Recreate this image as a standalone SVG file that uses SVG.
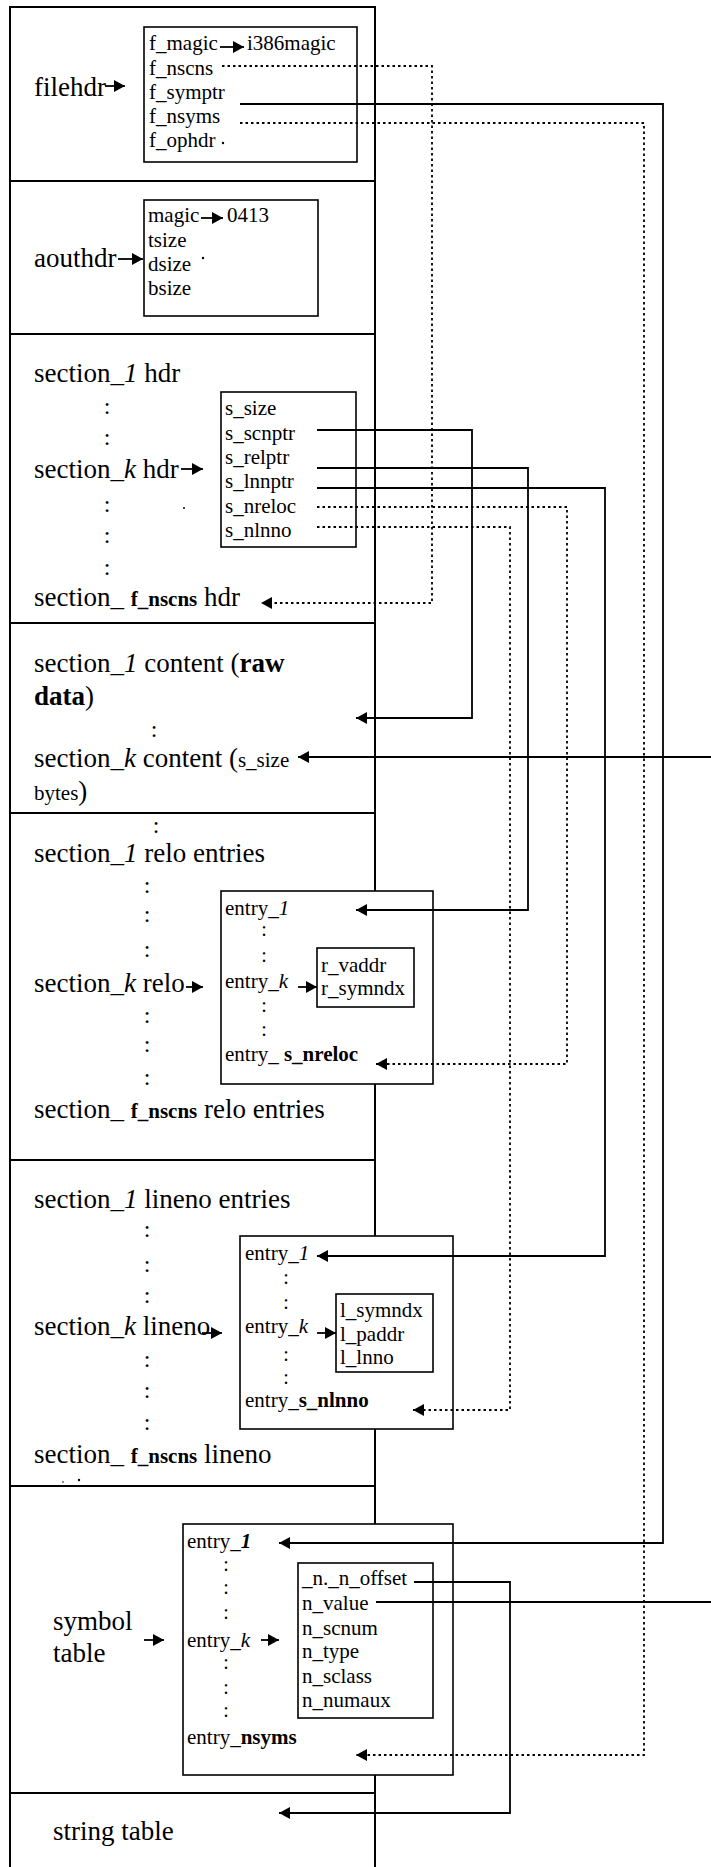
<svg xmlns="http://www.w3.org/2000/svg" width="711" height="1867" viewBox="0 0 711 1867">
<style>
.t{font-family:"Liberation Serif","Times New Roman",serif;fill:#000}
.big{font-size:27px}
.sm{font-size:21px}
.cb{font-size:24px}
.cs{font-size:20px}
.b{font-weight:bold}
.i{font-style:italic}
.frame{fill:none;stroke:#000;stroke-width:2}
.box{fill:none;stroke:#000;stroke-width:1.6}
.conn{fill:none;stroke:#000;stroke-width:1.8}
.dot{stroke-dasharray:2.5 3}
.arr{marker-end:url(#ah)}
</style>
<defs>
<marker id="ah" markerUnits="userSpaceOnUse" markerWidth="11" markerHeight="12" refX="11" refY="6" orient="auto">
<path d="M0,0 L11,6 L0,12 z" fill="#000"/>
</marker>
</defs>
<rect width="711" height="1867" fill="#fff"/>

<g id="frame">
<path class="frame" d="M10,1867 V7 H375 V891 M375,1084 V1236 M375,1429 V1524 M375,1775 V1867"/>
<path class="frame" d="M10,181 H375 M10,334 H375 M10,623 H375 M10,813 H375 M10,1160 H375 M10,1486 H375 M10,1793 H375"/>
</g>

<g id="filehdr">
<text class="t big" x="34" y="96">filehdr</text>
<rect class="box" x="144" y="27" width="213" height="135"/>
<text class="t sm" x="149" y="50">f_magic</text>
<text class="t sm" x="247" y="50">i386magic</text>
<text class="t sm" x="149" y="75">f_nscns</text>
<text class="t sm" x="149" y="99">f_symptr</text>
<text class="t sm" x="149" y="123">f_nsyms</text>
<text class="t sm" x="149" y="147">f_ophdr</text>
<circle cx="223" cy="143" r="1.2"/>
</g>

<g id="aouthdr">
<text class="t big" x="34" y="267">aouthdr</text>
<rect class="box" x="144" y="200" width="174" height="116"/>
<text class="t sm" x="148" y="222">magic</text>
<text class="t sm" x="227" y="222">0413</text>
<text class="t sm" x="148" y="247">tsize</text>
<text class="t sm" x="148" y="271">dsize</text>
<text class="t sm" x="148" y="295">bsize</text>
<circle cx="203" cy="258" r="1.2"/>
</g>

<g id="section-headers">
<text class="t big" x="34" y="382">section_<tspan class="i">1</tspan> hdr</text>
<text class="t big" x="34" y="478">section_<tspan class="i">k</tspan> hdr</text>
<text class="t big" x="34" y="606">section_ <tspan class="b" font-size="21">f_nscns</tspan> hdr</text>
<g class="t cb" text-anchor="middle">
<text x="107" y="414">:</text><text x="107" y="445">:</text><text x="107" y="512">:</text><text x="107" y="543">:</text><text x="107" y="575">:</text>
</g>
<circle cx="184" cy="508" r="1"/>
</g>

<g id="scnhdr-box">
<rect class="box" x="221" y="392" width="135" height="155"/>
<text class="t sm" x="225" y="415">s_size</text>
<text class="t sm" x="225" y="440">s_scnptr</text>
<text class="t sm" x="225" y="464">s_relptr</text>
<text class="t sm" x="225" y="488">s_lnnptr</text>
<text class="t sm" x="225" y="513">s_nreloc</text>
<text class="t sm" x="225" y="537">s_nlnno</text>
</g>

<g id="section-content">
<text class="t big" x="34" y="672">section_<tspan class="i">1</tspan> content (<tspan class="b">raw</tspan></text>
<text class="t big" x="34" y="705"><tspan class="b">data</tspan>)</text>
<text class="t cb" text-anchor="middle" x="154" y="737">:</text>
<text class="t big" x="34" y="767">section_<tspan class="i">k</tspan> content (<tspan font-size="21">s_size</tspan></text>
<text class="t big" x="34" y="800"><tspan font-size="21">bytes</tspan>)</text>
</g>

<g id="relo-entries">
<text class="t cb" text-anchor="middle" x="156" y="833">:</text>
<text class="t big" x="34" y="862">section_<tspan class="i">1</tspan> relo entries</text>
<text class="t big" x="34" y="992">section_<tspan class="i">k</tspan> relo</text>
<text class="t big" x="34" y="1118">section_ <tspan class="b" font-size="21">f_nscns</tspan> relo entries</text>
<g class="t cb" text-anchor="middle">
<text x="147" y="893">:</text><text x="147" y="922">:</text><text x="147" y="957">:</text><text x="147" y="1023">:</text><text x="147" y="1052">:</text><text x="147" y="1085">:</text>
</g>
</g>

<g id="relo-box">
<rect class="box" x="221" y="891" width="212" height="193"/>
<text class="t sm" x="225" y="915">entry_<tspan class="i">1</tspan></text>
<text class="t sm" x="225" y="988">entry_<tspan class="i">k</tspan></text>
<text class="t sm" x="225" y="1061">entry_ <tspan class="b">s_nreloc</tspan></text>
<g class="t cs" text-anchor="middle">
<text x="264" y="936">:</text><text x="264" y="962">:</text><text x="264" y="1012">:</text><text x="264" y="1036">:</text>
</g>
</g>

<g id="reloc-fields">
<rect class="box" x="317" y="948" width="97" height="59"/>
<text class="t sm" x="321" y="972">r_vaddr</text>
<text class="t sm" x="321" y="995">r_symndx</text>
</g>

<g id="lineno-entries">
<text class="t big" x="34" y="1208">section_<tspan class="i">1</tspan> lineno entries</text>
<text class="t big" x="34" y="1335">section_<tspan class="i">k</tspan> lineno</text>
<text class="t big" x="34" y="1463">section_ <tspan class="b" font-size="21">f_nscns</tspan> lineno</text>
<g class="t cb" text-anchor="middle">
<text x="147" y="1237">:</text><text x="147" y="1272">:</text><text x="147" y="1303">:</text><text x="147" y="1367">:</text><text x="147" y="1398">:</text><text x="147" y="1430">:</text>
</g>
<circle cx="63" cy="1482" r="0.8"/>
<circle cx="79" cy="1480" r="1.2"/>
</g>

<g id="lineno-box">
<rect class="box" x="240" y="1236" width="213" height="193"/>
<text class="t sm" x="245" y="1260">entry_<tspan class="i">1</tspan></text>
<text class="t sm" x="245" y="1333">entry_<tspan class="i">k</tspan></text>
<text class="t sm" x="245" y="1407">entry_<tspan class="b">s_nlnno</tspan></text>
<g class="t cs" text-anchor="middle">
<text x="286" y="1284">:</text><text x="286" y="1309">:</text><text x="286" y="1361">:</text><text x="286" y="1384">:</text>
</g>
</g>

<g id="lineno-fields">
<rect class="box" x="336" y="1294" width="97" height="78"/>
<text class="t sm" x="340" y="1317">l_symndx</text>
<text class="t sm" x="340" y="1341">l_paddr</text>
<text class="t sm" x="340" y="1364">l_lnno</text>
</g>

<g id="symbol-table">
<text class="t big" x="53" y="1630">symbol</text>
<text class="t big" x="53" y="1662">table</text>
<rect class="box" x="183" y="1524" width="270" height="251"/>
<text class="t sm" x="187" y="1548">entry_<tspan class="b i">1</tspan></text>
<text class="t sm" x="187" y="1647">entry_<tspan class="i">k</tspan></text>
<text class="t sm" x="187" y="1744">entry_<tspan class="b">nsyms</tspan></text>
<g class="t cs" text-anchor="middle">
<text x="226" y="1571">:</text><text x="226" y="1594">:</text><text x="226" y="1619">:</text><text x="226" y="1669">:</text><text x="226" y="1694">:</text><text x="226" y="1717">:</text>
</g>
</g>

<g id="symbol-fields">
<rect class="box" x="298" y="1563" width="135" height="155"/>
<text class="t sm" x="302" y="1585">_n._n_offset</text>
<text class="t sm" x="302" y="1610">n_value</text>
<text class="t sm" x="302" y="1635">n_scnum</text>
<text class="t sm" x="302" y="1658">n_type</text>
<text class="t sm" x="302" y="1683">n_sclass</text>
<text class="t sm" x="302" y="1707">n_numaux</text>
</g>

<g id="string-table">
<text class="t big" x="53" y="1840">string table</text>
</g>

<g id="connectors">
<path class="conn arr" d="M105,86 H125"/>
<path class="conn arr" d="M220,47 H244"/>
<path class="conn arr" d="M118,259 H143"/>
<path class="conn arr" d="M201,218 H223"/>
<path class="conn arr" d="M181,469 H203"/>
<path class="conn arr" d="M186,987 H203"/>
<path class="conn arr" d="M298,987 H317"/>
<path class="conn arr" d="M202,1333 H222"/>
<path class="conn arr" d="M317,1333 H336"/>
<path class="conn arr" d="M144,1640 H164"/>
<path class="conn arr" d="M261,1640 H279"/>

<path class="conn dot arr" d="M222,66 H432 V603 H261"/>
<path class="conn arr" d="M240,104 H663 V1543 H279"/>
<path class="conn dot arr" d="M240,123 H644 V1755 H356"/>
<path class="conn arr" d="M317,430 H472 V718 H356"/>
<path class="conn arr" d="M317,468 H528 V910 H356"/>
<path class="conn arr" d="M317,488 H605 V1256 H317"/>
<path class="conn dot arr" d="M317,507 H567 V1064 H376"/>
<path class="conn dot arr" d="M317,527 H510 V1410 H413"/>
<path class="conn" d="M376,1602 H711"/>
<path class="conn arr" d="M711,757 H298"/>
<path class="conn arr" d="M414,1582 H510 V1813 H279"/>
</g>
</svg>
